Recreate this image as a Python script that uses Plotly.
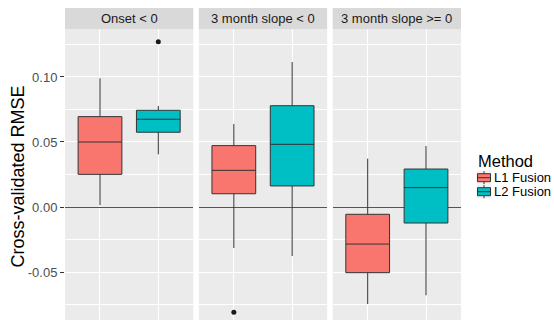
import plotly.graph_objects as go

# Cross-validated RMSE summaries per subgroup and fusion method
panels = ["Onset < 0", "3 month slope < 0", "3 month slope >= 0"]
methods = ["L1 Fusion", "L2 Fusion"]
colors = ["#F8766D", "#00BFC4"]

# [panel][method] five-number summaries
lower = [[0.0015, 0.0405], [-0.0315, -0.0377], [-0.0746, -0.0679]]
q1 = [[0.0251, 0.0575], [0.0102, 0.0162], [-0.0505, -0.0123]]
median = [[0.0500, 0.0675], [0.0282, 0.0482], [-0.0285, 0.0149]]
q3 = [[0.0695, 0.0744], [0.0472, 0.0779], [-0.0056, 0.0292]]
upper = [[0.0990, 0.0777], [0.0638, 0.1115], [0.0372, 0.0469]]

# outliers: (panel index, method index, value)
outliers = [(0, 1, 0.127), (1, 0, -0.081)]

y_range = [-0.0869, 0.1369]
domains = [[0.0, 0.324], [0.338, 0.662], [0.676, 1.0]]

# figure geometry in pixels
W, H = 554, 320
ML, MR, MT, MB = 65, 93, 29, 0
PW, PH = W - ML - MR, H - MT - MB


def px(xp):
    return (xp - ML) / PW


def py(yp):
    return (H - MB - yp) / PH


fig = go.Figure()

for p in range(3):
    xa = "x" if p == 0 else f"x{p + 1}"
    ya = "y" if p == 0 else f"y{p + 1}"
    for m in range(2):
        fig.add_trace(go.Box(
            x=[m + 1],
            lowerfence=[lower[p][m]],
            q1=[q1[p][m]],
            median=[median[p][m]],
            q3=[q3[p][m]],
            upperfence=[upper[p][m]],
            width=0.75,
            whiskerwidth=0,
            fillcolor=colors[m],
            line=dict(color="#333333", width=1),
            name=methods[m],
            showlegend=False,
            xaxis=xa, yaxis=ya,
            hoverinfo="skip",
        ))

for p, m, v in outliers:
    xa = "x" if p == 0 else f"x{p + 1}"
    ya = "y" if p == 0 else f"y{p + 1}"
    fig.add_trace(go.Scatter(
        x=[m + 1], y=[v], mode="markers",
        marker=dict(color="#1a1a1a", size=5),
        showlegend=False, xaxis=xa, yaxis=ya, hoverinfo="skip",
    ))

font_family = "Liberation Sans, Arial, sans-serif"
layout = dict(
    width=W, height=H,
    margin=dict(l=ML, r=MR, t=MT, b=MB),
    paper_bgcolor="white",
    plot_bgcolor="#EBEBEB",
    font=dict(family=font_family, color="#4D4D4D", size=13),
    showlegend=False,
)

for p in range(3):
    key_x = "xaxis" if p == 0 else f"xaxis{p + 1}"
    key_y = "yaxis" if p == 0 else f"yaxis{p + 1}"
    anchor_y = "y" if p == 0 else f"y{p + 1}"
    anchor_x = "x" if p == 0 else f"x{p + 1}"
    layout[key_x] = dict(
        domain=domains[p], anchor=anchor_y, range=[0.4, 2.6],
        tickvals=[1, 2], showticklabels=False, ticks="",
        showgrid=True, gridcolor="white", gridwidth=1.1, zeroline=False,
    )
    layout[key_y] = dict(
        anchor=anchor_x, range=y_range, domain=[0, 1],
        tickvals=[-0.05, 0.0, 0.05, 0.10],
        ticktext=["-0.05", "0.00", "0.05", "0.10"],
        showticklabels=(p == 0),
        ticks="outside" if p == 0 else "", ticklen=4, tickcolor="#333333",
        tickfont=dict(size=13, color="#4D4D4D"),
        showgrid=True, gridcolor="white", gridwidth=1.1,
        minor=dict(tickvals=[-0.075, -0.025, 0.025, 0.075, 0.125],
                   showgrid=True, gridcolor="white", gridwidth=0.5),
        zeroline=True, zerolinecolor="#555555", zerolinewidth=1.2,
    )
    if p > 0:
        layout[key_y]["matches"] = "y"

fig.update_layout(**layout)

# y-axis title
fig.add_annotation(x=px(17.5), y=py(177), xref="paper", yref="paper",
                   text="Cross-validated RMSE", textangle=-90, showarrow=False,
                   xanchor="center", yanchor="middle",
                   font=dict(size=18, color="black"))

# facet strips
for p, label in enumerate(panels):
    x0, x1 = domains[p]
    fig.add_shape(type="rect", xref="paper", yref="paper",
                  x0=x0, x1=x1, y0=1.0, y1=1.0 + 21 / PH,
                  fillcolor="#D9D9D9", line=dict(width=0), layer="below")
    fig.add_annotation(x=(x0 + x1) / 2, y=1.0 + 10.5 / PH,
                       xref="paper", yref="paper", text=label,
                       showarrow=False, xanchor="center", yanchor="middle",
                       font=dict(size=13, color="#1A1A1A"))

# legend: title, box-glyph keys and labels
fig.add_annotation(x=px(476), y=py(161), xref="paper", yref="paper",
                   text="Method", showarrow=False, xanchor="left",
                   yanchor="middle", font=dict(size=16.5, color="black"))
key_cy = [177.7, 191.7]
for m in range(2):
    cy = key_cy[m]
    kx0, kx1 = 477, 491
    kc = (kx0 + kx1) / 2
    fig.add_shape(type="rect", xref="paper", yref="paper",
                  x0=px(kx0 - 0.5), x1=px(kx1 + 0.5), y0=py(cy - 7), y1=py(cy + 7),
                  fillcolor="#F2F2F2", line=dict(width=0))
    fig.add_shape(type="line", xref="paper", yref="paper",
                  x0=px(kc), x1=px(kc), y0=py(cy - 6.5), y1=py(cy + 6.5),
                  line=dict(color="#333333", width=1))
    fig.add_shape(type="rect", xref="paper", yref="paper",
                  x0=px(kx0 + 0.5), x1=px(kx1 - 0.5), y0=py(cy - 4), y1=py(cy + 4),
                  fillcolor=colors[m], line=dict(color="#333333", width=1))
    fig.add_shape(type="line", xref="paper", yref="paper",
                  x0=px(kx0 + 0.5), x1=px(kx1 - 0.5), y0=py(cy), y1=py(cy),
                  line=dict(color="#333333", width=1))
    fig.add_annotation(x=px(492), y=py(cy), xref="paper", yref="paper",
                       text=methods[m], showarrow=False, xanchor="left",
                       yanchor="middle", font=dict(size=13, color="black"))

fig.write_html("out.html")
